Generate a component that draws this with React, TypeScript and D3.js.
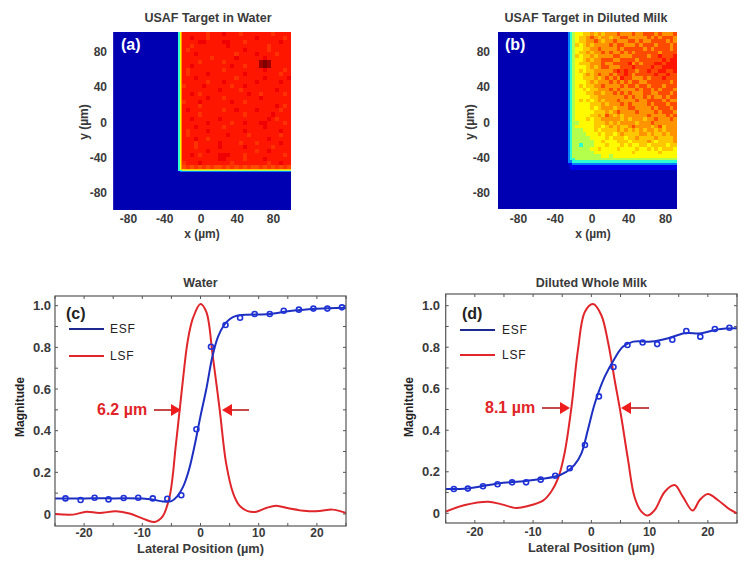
import * as d3 from 'd3';

const FONT = '"Liberation Sans", Arial, sans-serif';

// intensity levels used by the image grids, picked by a base-36 character
const levelValues = [0.05, 0.11, 0.25, 0.42, 0.55, 0.63, 0.68, 0.73, 0.8, 0.855, 0.89, 0.97, 1, 0.825];
const jetStops = [0, 0.125, 0.375, 0.625, 0.875, 1];
const jetColors = ['#00007f', '#0000ff', '#00ffff', '#ffff00', '#ff0000', '#7f0000'];

const imageTicks = [-80, -40, 0, 40, 80];

// panel (a), rows top to bottom, columns left to right
const waterColEdges = [-96.8, -25, -23.6, -22.3, ...d3.range(0, 28).map(i => -20.9 + i * 4.45)];
const waterRowEdges = [...d3.range(0, 35).map(i => 102.3 - i * 4.55), -53.2, -55, -56, -98.9];
const waterGrid = [
  '0357 999999d99 9a999d999 9999d9999',
  '0357 99a999d99 999999999 a999999d9',
  '0357 9999aa999 9aa999d99 999999a99',
  '0357 99d999999 99a999999 999d99999',
  '0357 9d9999999 999999a99 999d99999',
  '0357 999a99999 9999d9999 a9999d999',
  '0357 9999999d9 9999a9999 99a999999',
  '0357 9999d9999 9d9999999 9bcb99999',
  '0357 99a999999 999a99d99 9bcb99999',
  '0357 9d9999999 9d9999999 99a9999d9',
  '0357 9d9999a99 999999a99 999999d99',
  '0357 999a99999 9999d9999 99a99999a',
  '0357 999999d99 9a9999999 a99999a99',
  '0357 d9999a999 999d99a99 999999999',
  '0357 999999999 a9999d999 99999a999',
  '0357 99a9d9999 9999999a9 9d99999d9',
  '0357 999999a99 9d9999999 9a9999999',
  '0357 d999a9999 999a99d99 999999999',
  '0357 9999d9999 999999999 99999a9d9',
  '0357 9a9999999 9d99a9999 a99999d99',
  '0357 9999d9999 999999d99 9999a9999',
  '0357 99a999999 a99999999 999a9d999',
  '0357 999999a99 999d99a99 9aa9999d9',
  '0357 999a99999 9d9999999 99a999999',
  '0357 9d9999a99 999999a99 999999a99',
  '0357 9d9999999 99a9999d9 999999d99',
  '0357 999a99d99 999999999 999a99999',
  '0357 999d99999 a9999d999 d99999a99',
  '0357 999d99999 a99999a99 9999d9999',
  '0357 999999a99 999999999 d99a99999',
  '0357 99a9d9999 aaa999d99 9999999d9',
  '0357 999999999 aa9999d99 99a999999',
  '0357 d999a9999 999d99999 999d99a99',
  '0357 8d8d8d8d8 8d8d8d8d8 8d8d8d8d8',
  '0356 666666666 666666666 666666666',
  '0333 444444444 444444444 444444444',
  '0122 222222222 222222222 222222222',
  '0000 000000000 000000000 000000000',
];

// panel (b)
const milkColEdges = [-102.2, -26.1, -24, -22, ...d3.range(0, 28).map(i => -18.5 + i * 4.11)];
const milkRowEdges = [...d3.range(0, 35).map(i => 102.3 - i * 4.19), -42.9, -45.8, -48, -53.7, -97.7];
const milkGrid = [
  '0234 556676767 778777877 888787778',
  '0234 566787677 677887777 787878887',
  '0234 566778767 787778878 778888787',
  '0234 656767777 878877787 888788878',
  '0234 556677877 778788888 787888878',
  '0234 566767787 877878788 888878888',
  '0234 656676777 788777888 878898889',
  '0234 556767788 877888878 888889899',
  '0234 566677787 788889787 888998999',
  '0234 555676788 777888988 889889999',
  '0234 565667777 789898878 898899889',
  '0234 556767877 878898788 888988988',
  '0234 556667678 787988777 878889888',
  '0234 555676777 878787887 788888878',
  '0234 565667787 777878878 878887888',
  '0234 556566777 878777787 887878887',
  '0234 555667767 787878777 887788878',
  '0234 555566777 777787877 878778788',
  '0234 565656767 778777787 788887877',
  '0234 555566676 777878777 787888788',
  '0234 555565677 767778877 778788878',
  '0234 555556667 678777787 777878887',
  '0234 555566768 767677777 787777878',
  '0234 555656677 777676777 677877787',
  '0234 455556667 676777767 778777777',
  '0234 555556656 767667877 776786777',
  '0234 445556566 667676767 677676777',
  '0234 444555656 656766667 767667677',
  '0234 444455556 566656676 666766667',
  '0234 444445565 556665666 676566667',
  '0234 434445556 555656556 656666566',
  '0234 444455655 556555565 565656665',
  '0234 444445555 555555655 555565555',
  '0234 444444455 455555555 555555555',
  '0233 444444444 444444444 444444444',
  '0223 333333333 333333333 333333333',
  '0112 222222222 222222222 222222222',
  '0011 111111111 111111111 111111111',
  '0000 000000000 000000000 000000000',
];

// panel (c)
const waterEsfX = [-25, -20, -15, -10, -8, -6.5, -5, -4, -3, -2, -1, 0, 1, 2, 3, 4, 5, 6, 8, 10, 12, 15, 20, 25];
const waterEsfY = [0.075, 0.075, 0.075, 0.074, 0.068, 0.06, 0.062, 0.085, 0.13, 0.21, 0.33, 0.47, 0.6, 0.75, 0.85, 0.905, 0.935, 0.95, 0.957, 0.958, 0.96, 0.973, 0.985, 0.99];
const waterDotX = [-23.2, -20.6, -18.2, -15.8, -13.2, -10.7, -8.2, -5.7, -3.3, -0.7, 1.8, 4.3, 6.8, 9.3, 11.9, 14.3, 16.9, 19.4, 21.8, 24.3];
const waterDotY = [0.075, 0.067, 0.078, 0.07, 0.077, 0.078, 0.075, 0.073, 0.09, 0.407, 0.803, 0.907, 0.942, 0.96, 0.96, 0.976, 0.981, 0.986, 0.986, 0.992];
const waterLsfX = [-25, -21.9, -19.6, -17.4, -14.5, -12.2, -9.9, -7.9, -6.5, -5.3, -4.2, -3.15, -2.2, -1.3, 0, 1, 2.1, 3.3, 4.4, 5.6, 6.7, 8.1, 9.6, 11.3, 13, 15.3, 18.2, 20.4, 22.7, 25];
const waterLsfY = [0, -0.003, 0.011, 0.005, 0.013, 0.002, -0.022, -0.038, -0.011, 0.085, 0.34, 0.61, 0.83, 0.94, 1.008, 0.97, 0.76, 0.5, 0.244, 0.1, 0.04, 0.014, 0.011, 0.029, 0.04, 0.026, 0.014, 0.014, 0.021, 0.005];

// panel (d)
const milkEsfX = [-25, -21.2, -16, -11.2, -6.2, -4.3, -2.9, -1.7, -0.6, 0.6, 2.3, 4, 5.4, 7.2, 10.3, 13.2, 16, 18.9, 21.7, 25];
const milkEsfY = [0.117, 0.12, 0.144, 0.156, 0.177, 0.2, 0.233, 0.289, 0.401, 0.53, 0.658, 0.746, 0.802, 0.827, 0.827, 0.843, 0.867, 0.867, 0.886, 0.891];
const milkDotX = [-23.6, -21.2, -18.6, -16.1, -13.6, -11.2, -8.7, -6.2, -3.7, -1.1, 1.3, 3.8, 6.2, 8.8, 11.3, 13.9, 16.3, 18.7, 21.2, 23.7];
const milkDotY = [0.117, 0.119, 0.13, 0.14, 0.149, 0.149, 0.162, 0.181, 0.217, 0.329, 0.563, 0.705, 0.811, 0.823, 0.815, 0.836, 0.878, 0.851, 0.888, 0.894];
const milkLsfX = [-25, -21.7, -17.7, -15.4, -12.9, -10.9, -8.3, -6.9, -5.7, -4.6, -3.4, -2.3, -1.1, 0.3, 1.7, 2.9, 4, 5.1, 6.3, 7.4, 8.6, 9.7, 10.9, 12.6, 14.3, 15.7, 17.4, 18.6, 20, 21.7, 23.5, 25];
const milkLsfY = [0.008, 0.04, 0.056, 0.043, 0.026, 0.035, 0.061, 0.104, 0.169, 0.289, 0.514, 0.787, 0.971, 1.008, 0.955, 0.819, 0.642, 0.47, 0.257, 0.08, 0.008, -0.011, 0.016, 0.104, 0.136, 0.08, 0.013, 0.064, 0.093, 0.064, 0.024, 0];

const jet = d3.scaleLinear<string>().domain(jetStops).range(jetColors);
const INK = '#3a3a3a';

function ImagePanel({ id, title, tag, grid, colEdges, rowEdges, left, right, top, bottom, xZero, xPerUm, titleX, tagX, xLabelX, yLabelX, tickRight }: any) {
  const x = d3.scaleLinear().domain([0, 1]).range([xZero, xZero + xPerUm]);
  const y = d3.scaleLinear().domain([0, 1]).range([122.5, 122.5 - 0.885]);
  return (
    <g fontFamily={FONT}>
      <clipPath id={id}><rect x={left} y={top} width={right - left} height={bottom - top} /></clipPath>
      <g clipPath={`url(#${id})`}>
        <rect x={left} y={top} width={right - left} height={bottom - top} fill={jet(0.05)} />
        <g filter="url(#soft)" shapeRendering="crispEdges">
          {grid.map((row: string, r: number) =>
            row.replace(/ /g, '').split('').map((ch, c) => (
              <rect key={`${r}-${c}`} x={x(colEdges[c])} y={y(rowEdges[r])}
                width={x(colEdges[c + 1]) - x(colEdges[c]) + 0.3}
                height={y(rowEdges[r + 1]) - y(rowEdges[r]) + 0.3}
                fill={jet(levelValues[parseInt(ch, 36)])} />
            )))}
        </g>
      </g>
      <text x={titleX} y={22} textAnchor="middle" fontSize={12.5} fontWeight={700} fill={INK}>{title}</text>
      <text x={tagX} y={50} fontSize={16} fontWeight={700} fill="#fff">{tag}</text>
      {imageTicks.map(t => (
        <text key={`x${t}`} x={x(t)} y={223} textAnchor="middle" fontSize={12} fontWeight={700} fill={INK}>{t}</text>
      ))}
      {imageTicks.map(t => (
        <text key={`y${t}`} x={tickRight} y={y(t) + 4} textAnchor="end" fontSize={12} fontWeight={700} fill={INK}>{t}</text>
      ))}
      <text x={xLabelX} y={238} textAnchor="middle" fontSize={12} fontWeight={700} fill={INK}>x (µm)</text>
      <text transform={`translate(${yLabelX},122) rotate(-90)`} textAnchor="middle" fontSize={12} fontWeight={700} fill={INK}>y (µm)</text>
    </g>
  );
}

function Arrow({ x1, x2, y }: { x1: number; x2: number; y: number }) {
  const dir = x2 > x1 ? 1 : -1;
  return (
    <g>
      <line x1={x1} x2={x2 - dir * 8} y1={y} y2={y} stroke="#b81c1c" strokeWidth={1.6} />
      <path d={`M${x2},${y} L${x2 - dir * 10},${y - 6} L${x2 - dir * 10},${y + 6} Z`} fill="#ee1c1c" />
    </g>
  );
}

function LinePanel({ title, tag, esfX, esfY, dotX, dotY, lsfX, lsfY, left, right, top, bottom, yOne, yZero, width, arrowY, arrowL, arrowR, widthX, tagX, legendX, legendTextX, legendY1, legendY2, magX, tickRight, xLabelY, xTickY }: any) {
  const x = d3.scaleLinear().domain([-25, 25]).range([left, right]);
  const y = d3.scaleLinear().domain([0, 1]).range([yZero, yOne]);
  const makePath = (xs: number[], ys: number[]) =>
    d3.line<number>().x(i => x(xs[i])).y(i => y(ys[i])).curve(d3.curveCatmullRom.alpha(0.5))(d3.range(xs.length)) as string;
  const xMinor = d3.range(-25, 26, 5);
  const yMinor = d3.range(0, 1.01, 0.1);
  const yLabels = [0, 0.2, 0.4, 0.6, 0.8, 1];
  return (
    <g fontFamily={FONT}>
      <text x={(left + right) / 2} y={287} textAnchor="middle" fontSize={12.5} fontWeight={700} fill={INK}>{title}</text>
      <g stroke="#555" strokeWidth={1}>
        {xMinor.map(t => (
          <g key={t}>
            <line x1={x(t)} x2={x(t)} y1={bottom} y2={bottom - 3} />
            <line x1={x(t)} x2={x(t)} y1={top} y2={top + 3} />
          </g>
        ))}
        {yMinor.map(t => (
          <g key={t}>
            <line x1={left} x2={left + 3} y1={y(t)} y2={y(t)} />
            <line x1={right} x2={right - 3} y1={y(t)} y2={y(t)} />
          </g>
        ))}
      </g>
      <path d={makePath(lsfX, lsfY)} fill="none" stroke="#e0262a" strokeWidth={2} />
      <path d={makePath(esfX, esfY)} fill="none" stroke="#1c2fc0" strokeWidth={2} />
      {dotX.map((d: number, i: number) => (
        <circle key={i} cx={x(d)} cy={y(dotY[i])} r={2.5} fill="none" stroke="#1f32d8" strokeWidth={1.6} />
      ))}
      <rect x={left} y={top} width={right - left} height={bottom - top} fill="none" stroke="#555" strokeWidth={1.2} />
      {[-20, -10, 0, 10, 20].map(t => (
        <text key={t} x={x(t)} y={xTickY} textAnchor="middle" fontSize={12} fontWeight={700} fill={INK}>{t}</text>
      ))}
      {yLabels.map(t => (
        <text key={t} x={tickRight} y={y(t) + 4.5} textAnchor="end" fontSize={13} fontWeight={700} fill={INK}>{t === 0 ? '0' : t.toFixed(1)}</text>
      ))}
      <text x={(left + right) / 2} y={xLabelY} textAnchor="middle" fontSize={12.8} fontWeight={700} fill={INK}>Lateral Position (µm)</text>
      <text transform={`translate(${magX},407) rotate(-90)`} textAnchor="middle" fontSize={12} fontWeight={700} fill="#222">Magnitude</text>
      <text x={tagX} y={319} fontSize={16} fontWeight={700} fill="#222">{tag}</text>
      <line x1={legendX} x2={legendX + 35} y1={legendY1} y2={legendY1} stroke="#1c2a90" strokeWidth={1.8} />
      <line x1={legendX} x2={legendX + 35} y1={legendY2} y2={legendY2} stroke="#e0262a" strokeWidth={1.8} />
      <text x={legendTextX} y={legendY1 + 4} fontSize={12} letterSpacing={0.8} fill="#222">ESF</text>
      <text x={legendTextX} y={legendY2 + 4} fontSize={12} letterSpacing={0.8} fill="#222">LSF</text>
      <text x={widthX} y={arrowY + 5} fontSize={16} fontWeight={700} fill="#e02428">{width}</text>
      <Arrow x1={arrowL[0]} x2={arrowL[1]} y={arrowY} />
      <Arrow x1={arrowR[0]} x2={arrowR[1]} y={arrowY} />
    </g>
  );
}

export default function App() {
  return (
    <svg width={745} height={564} style={{ position: 'absolute', left: 0, top: 0, background: '#fff' }}>
      <defs>
        <filter id="soft" x="-2%" y="-2%" width="104%" height="104%">
          <feGaussianBlur stdDeviation="0.65" />
        </filter>
      </defs>
      <ImagePanel id="clipA" title="USAF Target in Water" tag="(a)" grid={waterGrid} colEdges={waterColEdges} rowEdges={waterRowEdges}
        left={113.3} right={291} top={32} bottom={210} xZero={201} xPerUm={0.906}
        titleX={208} tagX={121} xLabelX={202} yLabelX={88} tickRight={107} />
      <ImagePanel id="clipB" title="USAF Target in Diluted Milk" tag="(b)" grid={milkGrid} colEdges={milkColEdges} rowEdges={milkRowEdges}
        left={498} right={677} top={32} bottom={209} xZero={592} xPerUm={0.92}
        titleX={586} tagX={505} xLabelX={593} yLabelX={474} tickRight={490} />
      <LinePanel title="Water" tag="(c)" esfX={waterEsfX} esfY={waterEsfY} dotX={waterDotX} dotY={waterDotY} lsfX={waterLsfX} lsfY={waterLsfY}
        left={55} right={346} top={296} bottom={526} yOne={305.7} yZero={514} width="6.2 µm"
        arrowY={410} arrowL={[154, 181]} arrowR={[249, 222]} widthX={97} tagX={66} legendX={69} legendTextX={110}
        legendY1={329} legendY2={356} magX={24} tickRight={51} xLabelY={553} xTickY={537} />
      <LinePanel title="Diluted Whole Milk" tag="(d)" esfX={milkEsfX} esfY={milkEsfY} dotX={milkDotX} dotY={milkDotY} lsfX={milkLsfX} lsfY={milkLsfY}
        left={445.7} right={737} top={294} bottom={523} yOne={305.7} yZero={513.3} width="8.1 µm"
        arrowY={408} arrowL={[542, 570]} arrowR={[649, 621]} widthX={485} tagX={462} legendX={460} legendTextX={502}
        legendY1={330} legendY2={355} magX={413} tickRight={440} xLabelY={552} xTickY={536} />
    </svg>
  );
}
